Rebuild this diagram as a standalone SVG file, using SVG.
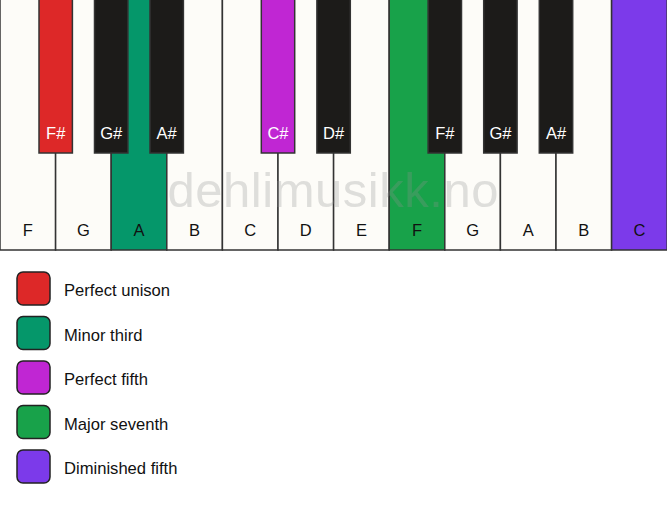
<svg xmlns="http://www.w3.org/2000/svg" width="667" height="506" viewBox="0 0 667 506">
<style>
.w{fill:#fdfcf8;stroke:#333;stroke-width:1.5}
.b{fill:#1c1b19;stroke:#333;stroke-width:1.5}
.lw{font-family:"Liberation Sans",Arial,sans-serif;font-size:16.5px;fill:#111;text-anchor:middle}
.lb{font-family:"Liberation Sans",Arial,sans-serif;font-size:16.5px;fill:#fff;text-anchor:middle}
.sw{stroke:#222;stroke-width:1.5}
.lt{font-family:"Liberation Sans",Arial,sans-serif;font-size:16.6px;fill:#111}
</style>
<rect width="667" height="506" fill="#fff"/>
<g id="white-keys">
<g id="wF1"><rect class="w" x="0" y="-1" width="55.6" height="251"/><text class="lw" x="27.8" y="236">F</text></g>
<g id="wG1"><rect class="w" x="55.6" y="-1" width="55.6" height="251"/><text class="lw" x="83.4" y="236">G</text></g>
<g id="wA1"><rect class="w" x="111.2" y="-1" width="55.6" height="251" style="fill:#05976a"/><text class="lw" x="139" y="236">A</text></g>
<g id="wB1"><rect class="w" x="166.8" y="-1" width="55.6" height="251"/><text class="lw" x="194.6" y="236">B</text></g>
<g id="wC1"><rect class="w" x="222.4" y="-1" width="55.6" height="251"/><text class="lw" x="250.2" y="236">C</text></g>
<g id="wD1"><rect class="w" x="278" y="-1" width="55.6" height="251"/><text class="lw" x="305.8" y="236">D</text></g>
<g id="wE1"><rect class="w" x="333.6" y="-1" width="55.6" height="251"/><text class="lw" x="361.4" y="236">E</text></g>
<g id="wF2"><rect class="w" x="389.2" y="-1" width="55.6" height="251" style="fill:#18a24a"/><text class="lw" x="417" y="236">F</text></g>
<g id="wG2"><rect class="w" x="444.8" y="-1" width="55.6" height="251"/><text class="lw" x="472.6" y="236">G</text></g>
<g id="wA2"><rect class="w" x="500.4" y="-1" width="55.6" height="251"/><text class="lw" x="528.2" y="236">A</text></g>
<g id="wB2"><rect class="w" x="556" y="-1" width="55.6" height="251"/><text class="lw" x="583.8" y="236">B</text></g>
<g id="wC2"><rect class="w" x="611.6" y="-1" width="55.6" height="251" style="fill:#7c3aea"/><text class="lw" x="639.4" y="236">C</text></g>
</g>
<g id="black-keys">
<g id="bFs1"><rect class="b" x="39" y="-1" width="33.4" height="154" style="fill:#dd2828"/><text class="lb" x="55.7" y="139">F#</text></g>
<g id="bGs1"><rect class="b" x="94.5" y="-1" width="33.4" height="154"/><text class="lb" x="111.2" y="139">G#</text></g>
<g id="bAs1"><rect class="b" x="150" y="-1" width="33.4" height="154"/><text class="lb" x="166.7" y="139">A#</text></g>
<g id="bCs1"><rect class="b" x="261.3" y="-1" width="33.4" height="154" style="fill:#c026d3"/><text class="lb" x="278" y="139">C#</text></g>
<g id="bDs1"><rect class="b" x="316.9" y="-1" width="33.4" height="154"/><text class="lb" x="333.6" y="139">D#</text></g>
<g id="bFs2"><rect class="b" x="428.1" y="-1" width="33.4" height="154"/><text class="lb" x="444.8" y="139">F#</text></g>
<g id="bGs2"><rect class="b" x="483.7" y="-1" width="33.4" height="154"/><text class="lb" x="500.4" y="139">G#</text></g>
<g id="bAs2"><rect class="b" x="539.3" y="-1" width="33.4" height="154"/><text class="lb" x="556" y="139">A#</text></g>
</g>
<text id="watermark" x="333" y="207" text-anchor="middle" font-family="Liberation Sans,Arial,sans-serif" font-size="49" fill="#8f8f8f" fill-opacity="0.28" textLength="331">dehlimusikk.no</text>
<g id="legend">
<g id="lg1"><rect class="sw" x="17" y="272" width="33" height="33" rx="6" fill="#dd2828"/><text class="lt" x="64" y="296">Perfect unison</text></g>
<g id="lg2"><rect class="sw" x="17" y="316.5" width="33" height="33" rx="6" fill="#05976a"/><text class="lt" x="64" y="340.5">Minor third</text></g>
<g id="lg3"><rect class="sw" x="17" y="361" width="33" height="33" rx="6" fill="#c026d3"/><text class="lt" x="64" y="385">Perfect fifth</text></g>
<g id="lg4"><rect class="sw" x="17" y="405.5" width="33" height="33" rx="6" fill="#18a24a"/><text class="lt" x="64" y="429.5">Major seventh</text></g>
<g id="lg5"><rect class="sw" x="17" y="450" width="33" height="33" rx="6" fill="#7c3aea"/><text class="lt" x="64" y="474">Diminished fifth</text></g>
</g>
<g id="connectors"/>
</svg>
